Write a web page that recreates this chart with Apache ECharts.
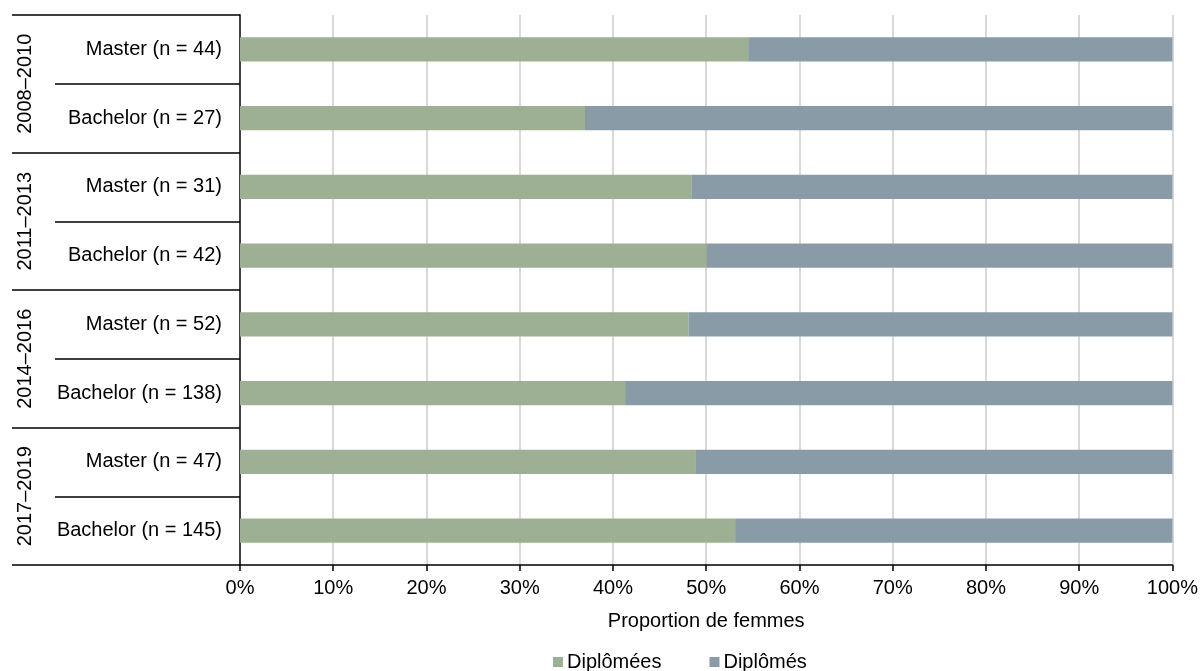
<!DOCTYPE html>
<html>
<head>
<meta charset="utf-8">
<script src="https://cdn.jsdelivr.net/npm/echarts@6/dist/echarts.min.js"></script>
<style>
  html, body { margin: 0; padding: 0; background: #fff; }
  #chart { width: 1201px; height: 671px; }
</style>
</head>
<body>
<div id="chart"></div>
<script>
// Programme level and number of graduates, by period (top to bottom)
const categories = [
  'Master (n = 44)', 'Bachelor (n = 27)',
  'Master (n = 31)', 'Bachelor (n = 42)',
  'Master (n = 52)', 'Bachelor (n = 138)',
  'Master (n = 47)', 'Bachelor (n = 145)'
];
const periods = ['2008–2010', '2011–2013', '2014–2016', '2017–2019'];

// Share of women and men among graduates (%)
const diplomees = [54.5, 37.0, 48.4, 50.0, 48.1, 41.3, 48.9, 53.1];
const diplomes  = [45.5, 63.0, 51.6, 50.0, 51.9, 58.7, 51.1, 46.9];

const xTicks = [0, 10, 20, 30, 40, 50, 60, 70, 80, 90, 100];

const FONT = '"Liberation Sans", Arial, sans-serif';
const FS = 20;
const chart = echarts.init(document.getElementById('chart'), null, { renderer: 'canvas' });

chart.setOption({
  backgroundColor: '#ffffff',
  animation: false,
  textStyle: { fontFamily: FONT, color: '#000' },
  grid: { left: 240, right: 28, top: 15, bottom: 106, containLabel: false },
  legend: {
    left: 553, top: 652, padding: 0,
    itemWidth: 10, itemHeight: 10, itemGap: 48,
    icon: 'rect',
    textStyle: { fontFamily: FONT, fontSize: FS, color: '#000', padding: [0, 0, 0, -1] },
    data: ['Diplômées', 'Diplômés']
  },
  xAxis: {
    type: 'value',
    min: xTicks[0], max: xTicks[xTicks.length - 1], interval: 10,
    name: 'Proportion de femmes',
    nameLocation: 'middle', nameGap: 46,
    nameTextStyle: { fontFamily: FONT, fontSize: FS, color: '#000' },
    axisLine: { show: true, lineStyle: { color: '#000', width: 1.5 } },
    axisTick: { show: true, length: 6, lineStyle: { color: '#000', width: 1.5 } },
    axisLabel: { fontFamily: FONT, fontSize: FS, color: '#000', margin: 13, formatter: v => v + '%' },
    splitLine: { show: true, lineStyle: { color: '#d9d9d9', width: 2 } }
  },
  yAxis: [
    {
      type: 'category',
      data: categories,
      inverse: true,
      position: 'left',
      axisLine: { show: true, lineStyle: { color: '#404040', width: 2 } },
      axisTick: { show: true, length: 185, alignWithLabel: false, lineStyle: { color: '#000', width: 1.5 } },
      axisLabel: { fontFamily: FONT, fontSize: FS, color: '#000', margin: 18 },
      splitLine: { show: false }
    },
    {
      type: 'category',
      data: periods,
      inverse: true,
      position: 'left',
      axisLine: { show: false },
      axisTick: { show: true, length: 228, alignWithLabel: false, lineStyle: { color: '#000', width: 1.5 } },
      axisLabel: { fontFamily: FONT, fontSize: FS, color: '#000', rotate: 90, margin: 205 },
      splitLine: { show: false }
    }
  ],
  series: [
    {
      name: 'Diplômées', type: 'bar', stack: 'total', yAxisIndex: 0,
      barWidth: '35%',
      itemStyle: { color: '#9db094' },
      data: diplomees
    },
    {
      name: 'Diplômés', type: 'bar', stack: 'total', yAxisIndex: 0,
      barWidth: '35%',
      itemStyle: { color: '#899ba6' },
      data: diplomes
    }
  ]
});
</script>
</body>
</html>
